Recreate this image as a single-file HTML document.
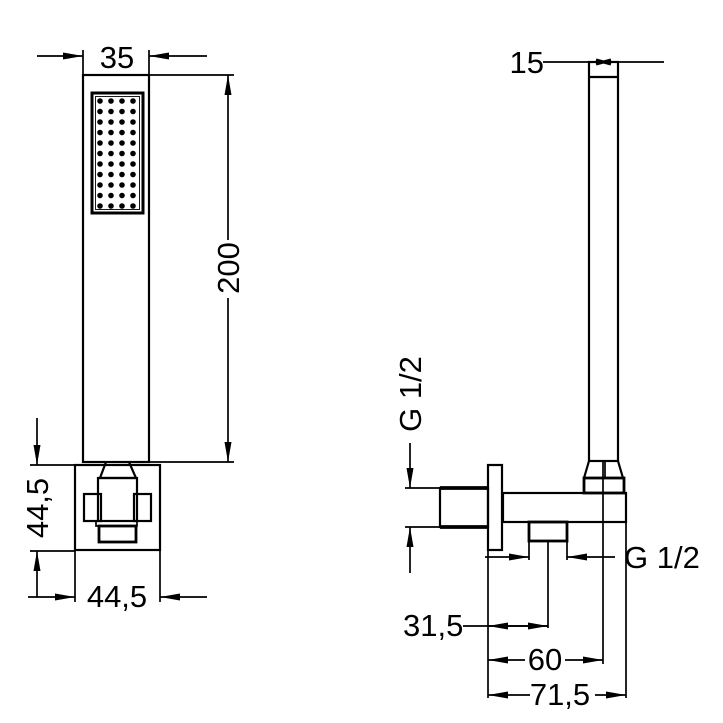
<!DOCTYPE html>
<html><head><meta charset="utf-8"><style>html,body{margin:0;padding:0;background:#fff}svg{display:block}</style></head>
<body>
<svg width="723" height="723" viewBox="0 0 723 723" xmlns="http://www.w3.org/2000/svg" font-family="Liberation Sans, sans-serif" font-size="31" fill="none" stroke="#000">
<defs>
<marker id="a" viewBox="0 0 20 7" refX="20" refY="3.5" markerWidth="20" markerHeight="7" markerUnits="userSpaceOnUse" orient="auto"><path d="M0,0L20,3.5L0,7z" fill="#000" stroke="none"/></marker>
</defs>
<g stroke-width="1.7">
<!-- LEFT VIEW -->
<rect x="83" y="75" width="66" height="387" stroke-width="2.2"/>
<rect x="92" y="93" width="51" height="120" stroke-width="3"/>
<rect x="95.5" y="96.5" width="44" height="113" stroke-width="0.9"/>
<!-- 35 dim -->
<line x1="83" y1="75" x2="83" y2="50"/><line x1="149" y1="75" x2="149" y2="50"/>
<line x1="37" y1="56" x2="83" y2="56" marker-end="url(#a)"/>
<line x1="207" y1="56" x2="149" y2="56" marker-end="url(#a)"/>
<!-- 200 dim -->
<line x1="149" y1="75" x2="234" y2="75"/><line x1="149" y1="462" x2="234" y2="462"/>
<line x1="228" y1="240" x2="228" y2="75" marker-end="url(#a)"/>
<line x1="228" y1="298" x2="228" y2="462" marker-end="url(#a)"/>
<!-- base -->
<rect x="75" y="465" width="85" height="85" stroke-width="2.2"/>
<path d="M106,462L100,478H136L129,462" stroke-width="2.2"/>
<rect x="98" y="478" width="39" height="43" stroke-width="2.2"/>
<rect x="84" y="494" width="17" height="27" stroke-width="2.2"/>
<rect x="134" y="494" width="17" height="27" stroke-width="2.2"/>
<rect x="96" y="521" width="41" height="5" stroke-width="1.7"/>
<rect x="99" y="526" width="37" height="16" stroke-width="2.8"/>
<!-- 44,5 vertical -->
<line x1="30" y1="465" x2="75" y2="465"/><line x1="30" y1="551" x2="75" y2="551"/>
<line x1="37" y1="418" x2="37" y2="465" marker-end="url(#a)"/>
<line x1="37" y1="597" x2="37" y2="551" marker-end="url(#a)"/>
<!-- 44,5 horizontal -->
<line x1="75" y1="551" x2="75" y2="602"/><line x1="160" y1="551" x2="160" y2="602"/>
<line x1="28" y1="597" x2="75" y2="597" marker-end="url(#a)"/>
<line x1="207" y1="597" x2="160" y2="597" marker-end="url(#a)"/>

<!-- RIGHT VIEW -->
<rect x="589" y="62" width="29" height="399" stroke-width="2.2"/>
<line x1="589" y1="77" x2="618" y2="77" stroke-width="2.2"/>
<line x1="543" y1="62" x2="664" y2="62"/>
<path d="M596,60L611,64M596,64L611,60" stroke-width="3"/>
<path d="M589,461L584,478M618,461L623,478" stroke-width="2.2"/>
<rect x="584" y="478" width="40" height="15" stroke-width="2.8"/>
<rect x="503" y="493" width="123" height="29" stroke-width="2.2"/>
<rect x="488" y="465" width="14" height="85" stroke-width="2.2"/>
<rect x="440" y="488" width="48" height="39" stroke-width="2.2"/>
<line x1="440" y1="488" x2="488" y2="488" stroke-width="3.8"/>
<line x1="440" y1="527" x2="488" y2="527" stroke-width="3.8"/>
<rect x="529" y="522" width="38" height="19" stroke-width="2.8"/>
<!-- ext lines -->
<line x1="603" y1="461" x2="603" y2="664"/>
<line x1="605" y1="461" x2="605" y2="478"/>
<line x1="626" y1="522" x2="626" y2="698"/>
<line x1="488" y1="550" x2="488" y2="698"/>
<line x1="529" y1="541" x2="529" y2="560"/>
<line x1="567" y1="541" x2="567" y2="560"/>
<line x1="548" y1="541" x2="548" y2="628"/>
<!-- G1/2 left -->
<line x1="405" y1="488" x2="440" y2="488"/><line x1="405" y1="527" x2="440" y2="527"/>
<line x1="410" y1="443" x2="410" y2="488" marker-end="url(#a)"/>
<line x1="410" y1="573" x2="410" y2="527" marker-end="url(#a)"/>
<!-- G1/2 right -->
<line x1="485" y1="557" x2="529" y2="557" marker-end="url(#a)"/>
<line x1="615" y1="557" x2="567" y2="557" marker-end="url(#a)"/>
<!-- 31,5 -->
<line x1="463" y1="626" x2="548" y2="626"/>
<line x1="520" y1="626" x2="488" y2="626" marker-end="url(#a)"/>
<line x1="520" y1="626" x2="548" y2="626" marker-end="url(#a)"/>
<!-- 60 -->
<line x1="525" y1="660" x2="488" y2="660" marker-end="url(#a)"/>
<line x1="565" y1="660" x2="603" y2="660" marker-end="url(#a)"/>
<!-- 71,5 -->
<line x1="530" y1="695" x2="488" y2="695" marker-end="url(#a)"/>
<line x1="595" y1="695" x2="626" y2="695" marker-end="url(#a)"/>
</g>
<g fill="#000" stroke="none">
<g id="d">
<circle cx="100" cy="101" r="2.8"/><circle cx="111" cy="101" r="2.8"/><circle cx="122" cy="101" r="2.8"/><circle cx="133" cy="101" r="2.8"/>
</g>
<use href="#d" y="10.5"/><use href="#d" y="21"/><use href="#d" y="31.5"/><use href="#d" y="42"/><use href="#d" y="52.5"/><use href="#d" y="63"/><use href="#d" y="73.5"/><use href="#d" y="84"/><use href="#d" y="94.5"/><use href="#d" y="105"/>
<text x="117" y="68" text-anchor="middle">35</text>
<text transform="translate(239,268) rotate(-90)" text-anchor="middle">200</text>
<text transform="translate(48,508) rotate(-90)" text-anchor="middle">44,5</text>
<text x="117" y="607" text-anchor="middle">44,5</text>
<text x="544" y="73" text-anchor="end">15</text>
<text transform="translate(421,394) rotate(-90)" text-anchor="middle">G 1/2</text>
<text x="624" y="568">G 1/2</text>
<text x="403" y="636">31,5</text>
<text x="545" y="670" text-anchor="middle">60</text>
<text x="560" y="705" text-anchor="middle">71,5</text>
</g>
</svg>
</body></html>
